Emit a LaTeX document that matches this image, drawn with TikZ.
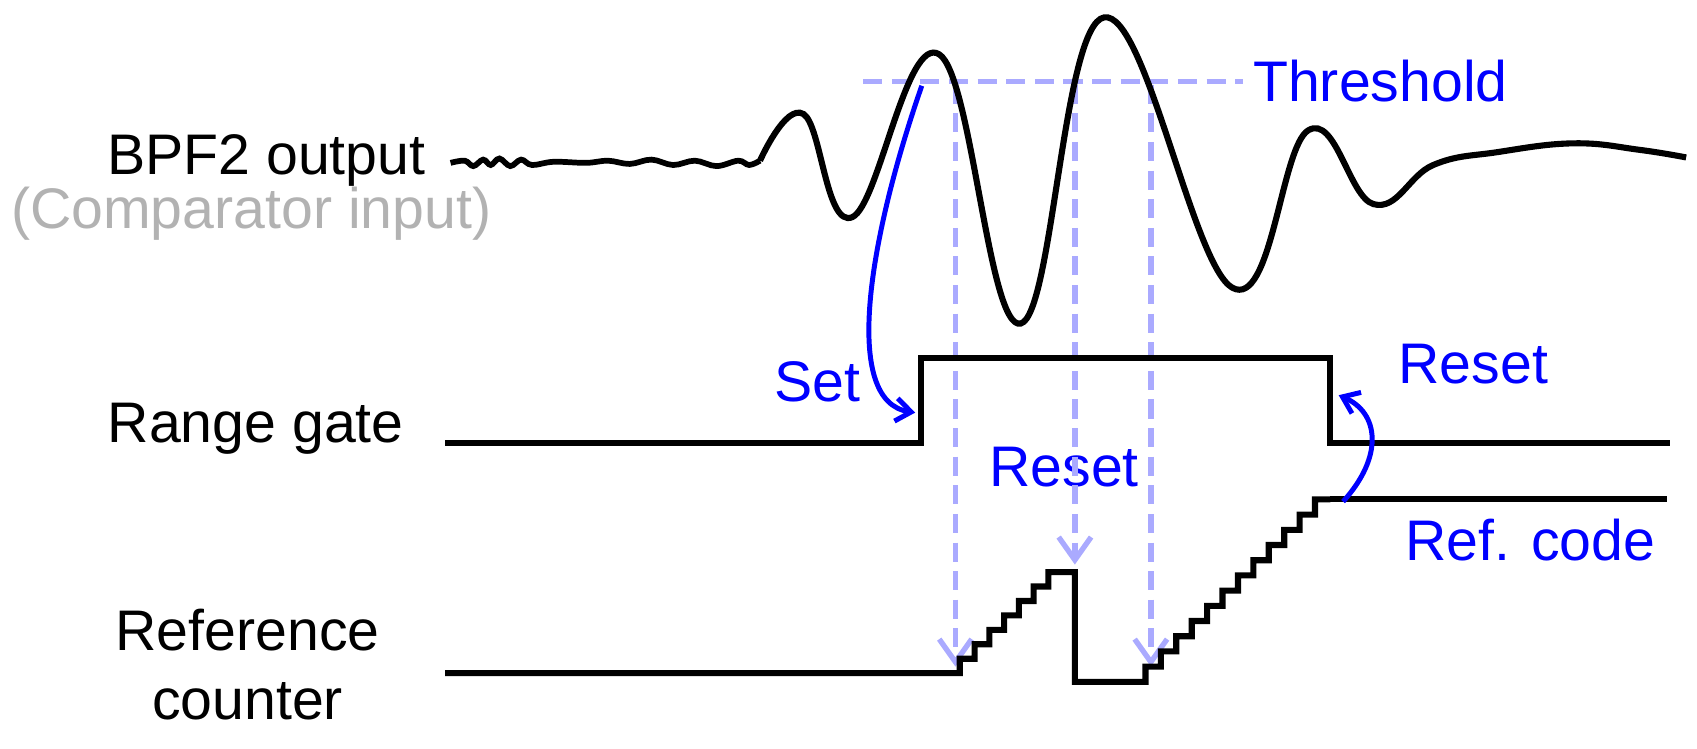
\documentclass[tikz,border=0pt]{standalone}
\usepackage{fontspec}
\setmainfont{Liberation Sans}
\usetikzlibrary{arrows.meta}
\begin{document}
\begin{tikzpicture}[x=0.02cm,y=-0.02cm,
  sig/.style={line width=3.2pt,black,line join=miter},
  thr/.style={line width=2.8pt,color=dashc,dash pattern=on 10pt off 5pt},
  arr/.style={-{Straight Barb[length=12pt,width=17pt,line width=2.8pt]}},
  lbl/.style={font=\fontsize{30}{36}\selectfont},
  blu/.style={line width=2.6pt,color=blue,-{Straight Barb[length=8pt,width=12pt]}}]
\definecolor{dashc}{RGB}{170,170,255}
\useasboundingbox (0,0) rectangle (1563,689);
% labels
\node[lbl,anchor=east] (bpf) at (398,148) {BPF2 output};
\node[lbl,anchor=west,text=black!30] (cmp) at (4,197) {(Comparator input)};
\node[lbl,anchor=east] (rg) at (378,395) {Range gate};
\node[lbl,align=center] (rc) at (228,612) {Reference\\counter};
\node[lbl,text=blue,anchor=west] (thrt) at (1148,75) {Threshold};
\node[lbl,text=blue] (set) at (753,352) {Set};
\node[lbl,text=blue] (rs1) at (980,430) {Reset};
\node[lbl,text=blue,anchor=west] (rs2) at (1282,335) {Reset};
\node[lbl,text=blue,anchor=west] (ref) at (1288,497) {Ref. code};
% threshold & dashed arrows
\coordinate (t0) at (795,75); \coordinate (t1) at (1145,75);
\draw[thr] (t0) -- (t1);
\coordinate (a1) at (880,78); \coordinate (b1) at (880,614);
\coordinate (a2) at (990,78); \coordinate (b2) at (990,520);
\coordinate (a3) at (1060,78); \coordinate (b3) at (1060,614);
\draw[thr,arr] (a1) -- (b1);
\draw[thr,arr] (a2) -- (b2);
\draw[thr,arr] (a3) -- (b3);
% waveform
\draw[line width=3pt] plot[smooth,tension=0.6] coordinates {(415,150)(428,148)(436,153)(445,147)(452,152)(460,146)(470,153)(480,147)(490,152)(510,149)(540,150)(560,148)(580,151)(600,147)(620,152)(640,148)(660,153)(680,148)(690,152)(700,148)};
\draw[sig] plot[smooth,tension=0.7] coordinates {(700,148)(740,105)(785,200)(865,50)(940,298)(1017,16)(1135,265)(1205,120)(1265,188)(1320,152)(1380,140)(1450,132)(1510,138)(1553,145)};
% range gate
\coordinate (g0) at (410,408); \coordinate (g1) at (848,408); \coordinate (g2) at (848,330);
\coordinate (g3) at (1225,330); \coordinate (g4) at (1225,408); \coordinate (g5) at (1538,408);
\draw[sig] (g0) -- (g1) -- (g2) -- (g3) -- (g4) -- (g5);
\coordinate (c0) at (1225,460); \coordinate (c1) at (1535,460);
\draw[sig] (c0) -- (c1);
% reference counter
\draw[sig] (410,620) -- (884,620)
  \foreach \i in {0,...,6} { -- ++(0,-13.3) -- ++(13.6,0) } -- (980,527) -- (990,527) -- (990,628) -- (1055,628)
  \foreach \i in {0,...,11} { -- ++(0,-14) -- ++(14.2,0) };
% blue arrows
\coordinate (s0) at (849,79); \coordinate (s1) at (843,380);
\draw[blu] (s0) .. controls (800,220) and (775,370) .. (s1);
\coordinate (r0) at (1237,462); \coordinate (r1) at (1233,364);
\draw[blu] (r0) .. controls (1275,420) and (1270,380) .. (r1);
\end{tikzpicture}
\end{document}
